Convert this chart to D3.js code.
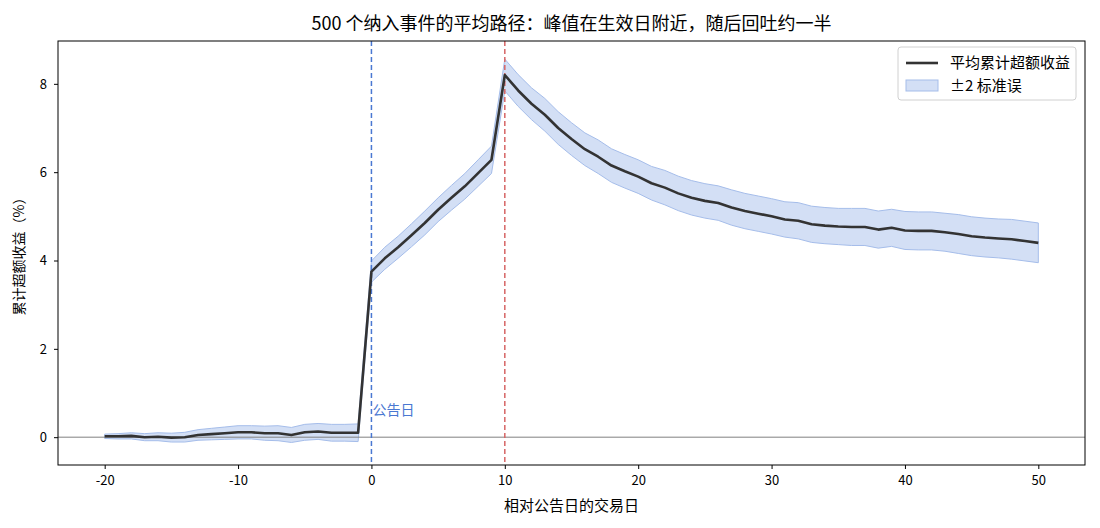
<!DOCTYPE html>
<html>
<head>
<meta charset="utf-8">
<script src="https://cdn.jsdelivr.net/npm/d3@7"></script>
<style>
  body { margin: 0; background: #fff; }
  svg text { font-family: "Noto Sans CJK SC", "DejaVu Sans", sans-serif; }
</style>
</head>
<body>
<svg id="chart" width="1100" height="528"></svg>
<script>
// Données
const days = d3.range(-20, 51);
const meanCar = [
  0.02, 0.02, 0.03, 0.00, 0.01, -0.01, 0.00, 0.05, 0.07, 0.09,
  0.11, 0.11, 0.09, 0.09, 0.05, 0.11, 0.13, 0.10, 0.10, 0.10,
  3.75, 4.05, 4.30, 4.57, 4.85, 5.15, 5.42, 5.68, 5.98, 6.28,
  8.20, 7.85, 7.55, 7.30, 7.00, 6.75, 6.52, 6.35, 6.15, 6.02,
  5.90, 5.75, 5.65, 5.52, 5.42, 5.35, 5.30, 5.20, 5.12, 5.06,
  5.00, 4.93, 4.90, 4.82, 4.79, 4.77, 4.76, 4.76, 4.70, 4.74,
  4.68, 4.67, 4.67, 4.64, 4.60, 4.55, 4.52, 4.50, 4.48, 4.44,
  4.40
];
const twoSe = [
  0.05, 0.06, 0.07, 0.08, 0.09, 0.10, 0.11, 0.12, 0.13, 0.14,
  0.15, 0.15, 0.16, 0.17, 0.17, 0.18, 0.18, 0.19, 0.19, 0.20,
  0.24, 0.25, 0.25, 0.26, 0.27, 0.27, 0.28, 0.29, 0.30, 0.31,
  0.36, 0.36, 0.36, 0.37, 0.37, 0.37, 0.37, 0.38, 0.38, 0.38,
  0.38, 0.38, 0.39, 0.39, 0.39, 0.39, 0.39, 0.40, 0.40, 0.40,
  0.40, 0.40, 0.41, 0.41, 0.41, 0.41, 0.42, 0.42, 0.42, 0.42,
  0.43, 0.43, 0.43, 0.43, 0.44, 0.44, 0.44, 0.44, 0.45, 0.45,
  0.45
];
const xTicks = [-20, -10, 0, 10, 20, 30, 40, 50];
const yTicks = [0, 2, 4, 6, 8];
const announceDay = 0;
const effectiveDay = 10;

const data = days.map((d, i) => ({ day: d, mean: meanCar[i], se2: twoSe[i] }));

// Marges et dimensions
const margin = { top: 41, right: 15, bottom: 63, left: 58 };
const width = 1100 - margin.left - margin.right;
const height = 528 - margin.top - margin.bottom;

const svg = d3.select("#chart")
  .append("g")
  .attr("transform", `translate(${margin.left},${margin.top})`);

// Échelles
const x = d3.scaleLinear().domain([-23.5, 53.5]).range([0, width]);
const y = d3.scaleLinear().domain([-0.63, 8.97]).range([height, 0]);

// Bande ±2 erreurs standard
const area = d3.area()
  .x(d => x(d.day))
  .y0(d => y(d.mean - d.se2))
  .y1(d => y(d.mean + d.se2));

svg.append("path")
  .datum(data)
  .attr("d", area)
  .attr("fill", "#afc5ec")
  .attr("fill-opacity", 0.55)
  .attr("stroke", "#a5bdea")
  .attr("stroke-width", 1);

// Ligne horizontale à zéro
svg.append("line")
  .attr("x1", 0).attr("x2", width)
  .attr("y1", y(0)).attr("y2", y(0))
  .attr("stroke", "#808080")
  .attr("stroke-width", 1);

// Lignes verticales : annonce et date effective
svg.append("line")
  .attr("x1", x(announceDay)).attr("x2", x(announceDay))
  .attr("y1", 0).attr("y2", height)
  .attr("stroke", "#4a78d2")
  .attr("stroke-width", 1.5)
  .attr("stroke-dasharray", "5,3");

svg.append("line")
  .attr("x1", x(effectiveDay)).attr("x2", x(effectiveDay))
  .attr("y1", 0).attr("y2", height)
  .attr("stroke", "#d66565")
  .attr("stroke-width", 1.5)
  .attr("stroke-dasharray", "5,3");

svg.append("text")
  .attr("x", x(announceDay) + 1)
  .attr("y", y(0.5))
  .attr("fill", "#4a78d2")
  .style("font-size", "14px")
  .text("公告日");

// Ligne moyenne
const line = d3.line()
  .x(d => x(d.day))
  .y(d => y(d.mean));

svg.append("path")
  .datum(data)
  .attr("d", line)
  .attr("fill", "none")
  .attr("stroke", "#333333")
  .attr("stroke-width", 2.6)
  .attr("stroke-linejoin", "round");

// Axes
const xAxis = svg.append("g")
  .attr("transform", `translate(0,${height})`)
  .call(d3.axisBottom(x).tickValues(xTicks).tickSize(4).tickPadding(7).tickFormat(d => String(d)));

const yAxis = svg.append("g")
  .call(d3.axisLeft(y).tickValues(yTicks).tickSize(4).tickPadding(7).tickFormat(d => String(d)));

[xAxis, yAxis].forEach(a => {
  a.selectAll("text").style("font-size", "13px").attr("fill", "#000");
  a.selectAll("line").attr("stroke", "#000");
  a.select(".domain").remove();
});

// Cadre
svg.append("rect")
  .attr("width", width).attr("height", height)
  .attr("fill", "none")
  .attr("stroke", "#000")
  .attr("stroke-width", 1);

// Titre et labels d'axes
svg.append("text")
  .attr("x", width / 2)
  .attr("y", -11)
  .attr("text-anchor", "middle")
  .style("font-size", "18px")
  .text("500 个纳入事件的平均路径：峰值在生效日附近，随后回吐约一半");

svg.append("text")
  .attr("x", width / 2)
  .attr("y", height + 46)
  .attr("text-anchor", "middle")
  .style("font-size", "15px")
  .text("相对公告日的交易日");

svg.append("text")
  .attr("transform", "rotate(-90)")
  .attr("x", -height / 2)
  .attr("y", -34)
  .attr("text-anchor", "middle")
  .style("font-size", "14px")
  .text("累计超额收益（%）");

// Légende
const legend = svg.append("g")
  .attr("transform", `translate(${width - 187},6)`);

legend.append("rect")
  .attr("width", 178).attr("height", 53)
  .attr("rx", 3)
  .attr("fill", "#fff")
  .attr("fill-opacity", 0.8)
  .attr("stroke", "#d0d0d0");

legend.append("line")
  .attr("x1", 8).attr("x2", 40)
  .attr("y1", 16).attr("y2", 16)
  .attr("stroke", "#333333")
  .attr("stroke-width", 2.6);

legend.append("text")
  .attr("x", 52).attr("y", 16)
  .attr("dy", "0.35em")
  .style("font-size", "15px")
  .text("平均累计超额收益");

legend.append("rect")
  .attr("x", 8).attr("y", 33)
  .attr("width", 32).attr("height", 11)
  .attr("fill", "#afc5ec")
  .attr("fill-opacity", 0.55)
  .attr("stroke", "#a5bdea");

legend.append("text")
  .attr("x", 52).attr("y", 39)
  .attr("dy", "0.35em")
  .style("font-size", "15px")
  .text("±2 标准误");
</script>
</body>
</html>
